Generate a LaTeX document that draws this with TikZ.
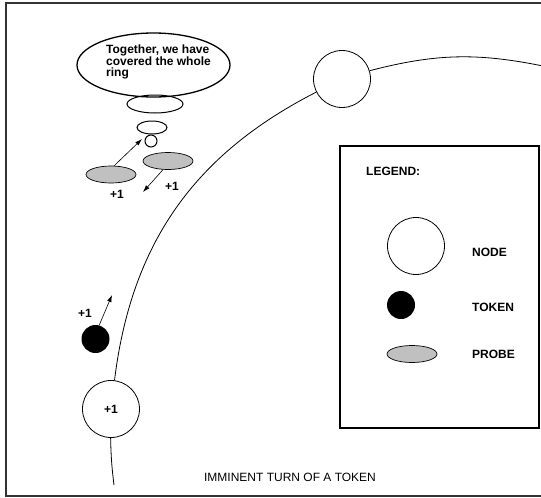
\documentclass[tikz,border=0pt]{standalone}
\usepackage{fontspec}
\setmainfont{Liberation Sans}
\usetikzlibrary{shapes.geometric,arrows.meta}
\definecolor{probegray}{RGB}{192,192,192}
\begin{document}
\begin{tikzpicture}[x=1pt,y=-1pt,
  ringnode/.style={circle, draw, line width=0.8pt, fill=white, minimum size=57pt, inner sep=0pt, font=\bfseries\fontsize{12}{13}\selectfont},
  tokennode/.style={circle, fill=black, minimum size=28pt, inner sep=0pt},
  probenode/.style={ellipse, draw, fill=probegray, minimum width=50pt, minimum height=17pt, inner sep=0pt, line width=0.7pt},
  bubblenode/.style={ellipse, draw, line width=1.3pt, inner sep=0pt},
  lbl/.style={font=\bfseries\fontsize{12}{13}\selectfont, inner sep=0pt},
  ringline/.style={line width=0.8pt},
  arr/.style={line width=0.6pt, -{Latex[length=7pt,width=4.5pt]}}
]
\useasboundingbox (0,0) rectangle (541,498);
% outer frame
\draw[line width=1.2pt, black!80] (541,3) -- (6,3) -- (6,496) -- (541,496);

% ring
\coordinate (ringend) at (543,66);
\coordinate (ringbot) at (114,485);
\node[ringnode] (tn) at (342,79) {};
\node[ringnode] (bn) at (111,409) {+1};
\draw[ringline] (bn) to[bend left=28] (tn);
\draw[ringline] (tn) to[bend left=13] (ringend);
\draw[ringline] (bn) to[bend right=3] (ringbot);

% token
\node[tokennode] (tok) at (95.5,339) {};
\coordinate (toktip) at (112,295);
\draw[arr] (tok.75) -- (toktip);
\node[lbl] (tokplus) at (85,313) {+1};

% thought bubble
\node[bubblenode, minimum width=153pt, minimum height=64pt] (bubble) at (153.5,65) {};
\node[lbl, align=left, anchor=west, font=\bfseries\fontsize{12}{11.5}\selectfont] (bubbletext) at (106,62) {Together, we have\\covered the whole\\ring};
\node[bubblenode, line width=1pt, minimum width=56pt, minimum height=18pt] (b2) at (155,104) {};
\node[bubblenode, line width=1pt, minimum width=30pt, minimum height=13pt] (b3) at (152,127.5) {};
\node[bubblenode, line width=1pt, minimum width=12pt, minimum height=12pt] (b4) at (151,141) {};

% probes
\node[probenode] (p1) at (111,174.5) {};
\node[probenode] (p2) at (168,161) {};
\coordinate (p1tip) at (142,139);
\coordinate (p2tip) at (143,192);
\draw[arr] (p1.70) -- (p1tip);
\draw[arr] (p2.240) -- (p2tip);
\node[lbl] (p1plus) at (117,194) {+1};
\node[lbl] (p2plus) at (172,186) {+1};

% legend
\draw[line width=1.4pt] (340,146) rectangle (539,428);
\node[lbl, anchor=west] (legtitle) at (366,171) {LEGEND:};
\node[ringnode] (legnode) at (416,246) {};
\node[lbl, anchor=west] (legnodetxt) at (472,252) {NODE};
\node[tokennode] (legtok) at (401,305) {};
\node[lbl, anchor=west] (legtoktxt) at (472,307) {TOKEN};
\node[probenode] (legprobe) at (412,354) {};
\node[lbl, anchor=west] (legprobetxt) at (472,354) {PROBE};

% caption
\node[font=\fontsize{12}{13}\selectfont, inner sep=0pt] (caption) at (290,477) {IMMINENT TURN OF A TOKEN};
\end{tikzpicture}
\end{document}
